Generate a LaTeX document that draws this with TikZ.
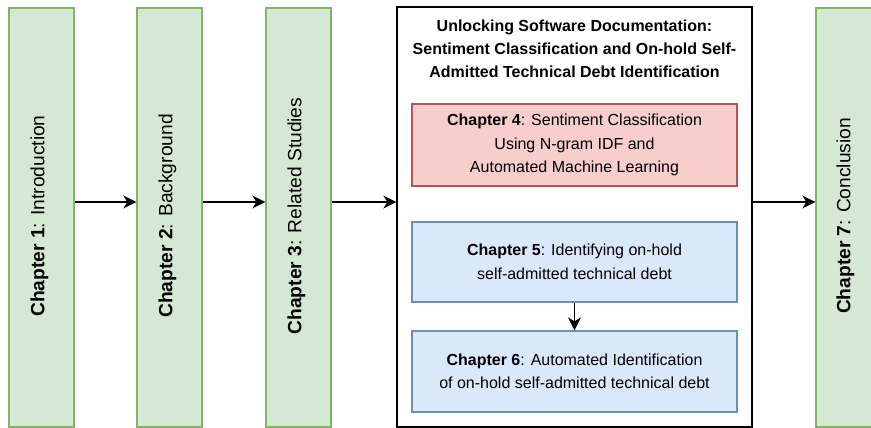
\documentclass[tikz,border=0pt]{standalone}
\usepackage{fontspec}
\setmainfont{Liberation Sans}
\usetikzlibrary{arrows.meta}
\definecolor{gfill}{HTML}{D5E8D4}
\definecolor{gline}{HTML}{82B366}
\definecolor{rfill}{HTML}{F8CECC}
\definecolor{rline}{HTML}{B85450}
\definecolor{bfill}{HTML}{DAE8FC}
\definecolor{bline}{HTML}{6C8EBF}
\begin{document}
\begin{tikzpicture}[x=1pt,y=-1pt,
  vtxt/.style={font=\fontsize{19.2}{23.5}\selectfont, inner sep=0pt, rotate=90},
  chapbox/.style={draw=gline, fill=gfill, line width=1.3pt, minimum width=65pt, minimum height=419pt, inner sep=0pt},
  innerbox/.style={line width=1.3pt, minimum width=325pt, inner sep=0pt, align=center, font=\fontsize{16}{23.5}\selectfont},
  redbox/.style={innerbox, draw=rline, fill=rfill, minimum height=82pt},
  bluebox/.style={innerbox, draw=bline, fill=bfill, minimum height=80pt},
  mainbox/.style={draw=black, fill=white, line width=1.3pt, minimum width=355pt, minimum height=420pt, inner sep=0pt},
  conn/.style={line width=1.6pt, -{Stealth[length=13pt,width=13pt,inset=4pt]}}
]
\useasboundingbox (0,0) rectangle (871,428);
\node[chapbox] (c1) at (41.5,217.5) {};
\node[chapbox] (c2) at (169.5,217.5) {};
\node[chapbox] (c3) at (298.5,217.5) {};
\node[mainbox] (m) at (574.5,217) {};
\node[chapbox] (c7) at (848.5,217.5) {};
\node[vtxt] (t1) at (39.5,216) {\textbf{Chapter 1}: Introduction};
\node[vtxt] (t2) at (167.5,216) {\textbf{Chapter 2}: Background};
\node[vtxt] (t3) at (296.5,216) {\textbf{Chapter 3}: Related Studies};
\node[vtxt] (t7) at (845.5,216) {\textbf{Chapter 7}: Conclusion};
\node[inner sep=0pt, align=center, font=\fontsize{16}{23}\selectfont\bfseries] (title) at (574.5,49) {Unlocking Software Documentation:\\Sentiment Classification and On-hold Self-\\Admitted Technical Debt Identification};
\node[redbox] (b4) at (574.5,145) {\textbf{Chapter 4}: Sentiment Classification\\Using N-gram IDF and\\Automated Machine Learning};
\node[bluebox] (b5) at (574.5,262) {\textbf{Chapter 5}: Identifying on-hold\\self-admitted technical debt};
\node[bluebox, minimum height=81pt] (b6) at (574.5,371.5) {\textbf{Chapter 6}: Automated Identification\\of on-hold self-admitted technical debt};
\coordinate (ay) at (0,202);
\draw[conn] (c1.east |- ay) -- (c2.west |- ay);
\draw[conn] (c2.east |- ay) -- (c3.west |- ay);
\draw[conn] (c3.east |- ay) -- (m.west |- ay);
\draw[conn] (m.east |- ay) -- (c7.west |- ay);
\draw[conn] (b5.south) -- (b6.north);
\end{tikzpicture}
\end{document}
